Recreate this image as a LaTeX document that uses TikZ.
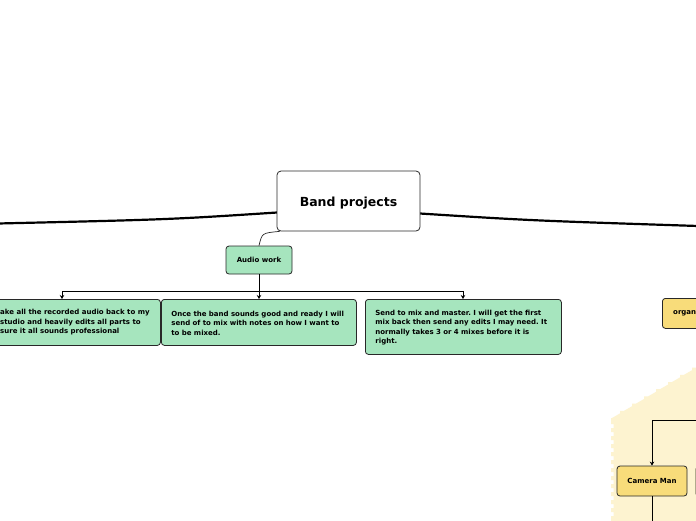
\documentclass[tikz,border=0pt]{standalone}
\usepackage{fontspec}
\setmainfont{DejaVu Sans}
\usetikzlibrary{arrows.meta}
\definecolor{boxgreen}{RGB}{166,229,190}
\definecolor{boxyellow}{RGB}{248,220,122}
\definecolor{creambg}{RGB}{253,243,208}
\definecolor{edgegray}{RGB}{40,40,40}
\frenchspacing
\tikzset{
  smalltext/.style={font=\bfseries\fontsize{7}{9.5}\selectfont},
  greenbox/.style={draw=edgegray, line width=0.8pt, fill=boxgreen, rounded corners=3pt,
    smalltext, align=left, anchor=north west, inner ysep=0pt},
  yellowbox/.style={draw=edgegray, line width=0.8pt, fill=boxyellow, rounded corners=3pt,
    smalltext, inner sep=0pt},
  mainbox/.style={draw=edgegray, line width=0.8pt, fill=white, rounded corners=4pt,
    font=\bfseries\fontsize{12.5}{14}\selectfont, minimum width=143pt, minimum height=60pt, inner sep=0pt},
  conn/.style={draw=black, line width=0.9pt},
  arr/.style={conn, -{Stealth[length=4pt,width=4.5pt]}},
  branch/.style={draw=black, line width=2.2pt}
}
\begin{document}
\begin{tikzpicture}[x=1pt,y=-1pt]
\useasboundingbox (0,0) rectangle (696,520);
\clip (0,0) rectangle (696,520);
\fill[white] (0,0) rectangle (696,520);

% cream background region
\fill[creambg] (700,524) -- (611,524) -- (611,520)
  \foreach \i in {1,...,12} { -- ++(0,-4) -- ++(2.5,0) -- ++(0,-4) -- ++(-2.5,0) }
  -- (611,418) -- (612,418)
  \foreach \i in {1,...,8} { -- ++(8,-4.6) -- ++(0,-2.6) -- ++(4,0) }
  -- (710,350) -- cycle;

% thick branches
\coordinate (Ls) at (277,212.5);
\coordinate (Lend) at (-2,223.5);
\coordinate (Rs) at (420,213.5);
\coordinate (Rend) at (698,226);
\draw[branch] (Ls) .. controls (170,219.5) .. (Lend);
\draw[branch] (Rs) .. controls (530,220.5) .. (Rend);

% central node
\node[mainbox] (c) at (348.5,201) {\raisebox{-5.5pt}[0pt][0pt]{Band projects}};

% audio work
\node[greenbox, anchor=center, align=center, minimum width=66pt, minimum height=28pt, inner sep=0pt] (audio) at (259,260) {Audio work};
\draw[draw=edgegray, line width=0.7pt] ([xshift=3pt]c.south west) .. controls (262,233) .. (audio.north);

% child boxes
\node[greenbox, minimum width=196pt, minimum height=46pt, text width=150pt, inner xsep=0pt] (b1) at (-36,299) {};
\node[smalltext, align=left, anchor=west, inner sep=0pt] (b1t) at (0,322.5)
  {ake all the recorded audio back to my\\studio and heavily edits all parts to\\sure it all sounds professional};
\node[greenbox, minimum width=195pt, minimum height=46pt, text width=175pt, inner xsep=10pt] (b2) at (161,299)
  {\vbox to 46pt{\vskip1pt\vfil\hbox{Once the band sounds good and ready I will}\hbox{send of to mix with notes on how I want to}\hbox{to be mixed.}\vfil}};
\node[greenbox, minimum width=196pt, minimum height=55pt, text width=176pt, inner xsep=10pt] (b3) at (365,299)
  {\vbox to 55pt{\vskip1pt\vfil\hbox{Send to mix and master. I will get the first}\hbox{mix back then send any edits I may need. It}\hbox{normally takes 3 or 4 mixes before it is}\hbox{right.}\vfil}};

\coordinate (splitL) at (62,291);
\coordinate (splitR) at (463,291);
\draw[conn] (splitL) -- (splitR);
\draw[arr] (audio.south) -- (audio.south |- b2.north);
\draw[arr] (splitL) -- (splitL |- b1.north);
\draw[arr] (splitR) -- (splitR |- b3.north);

% right side yellow nodes
\node[yellowbox, minimum width=60pt, minimum height=30pt, anchor=north west] (org) at (662,298) {};
\node[smalltext, anchor=west, inner sep=0pt] (orgt) at (673,313) {organ};

\node[yellowbox, minimum width=70pt, minimum height=30pt] (cam) at (652,481) {Camera Man};
\node[yellowbox, minimum width=40pt, minimum height=30pt, anchor=north west] (next) at (695.5,466) {};
\coordinate (camin) at (700,420);
\coordinate (camout) at (652,525);
\draw[arr] (camin) -- (cam.north |- camin) -- (cam.north);
\draw[conn] (cam.south) -- (camout);
\end{tikzpicture}
\end{document}
